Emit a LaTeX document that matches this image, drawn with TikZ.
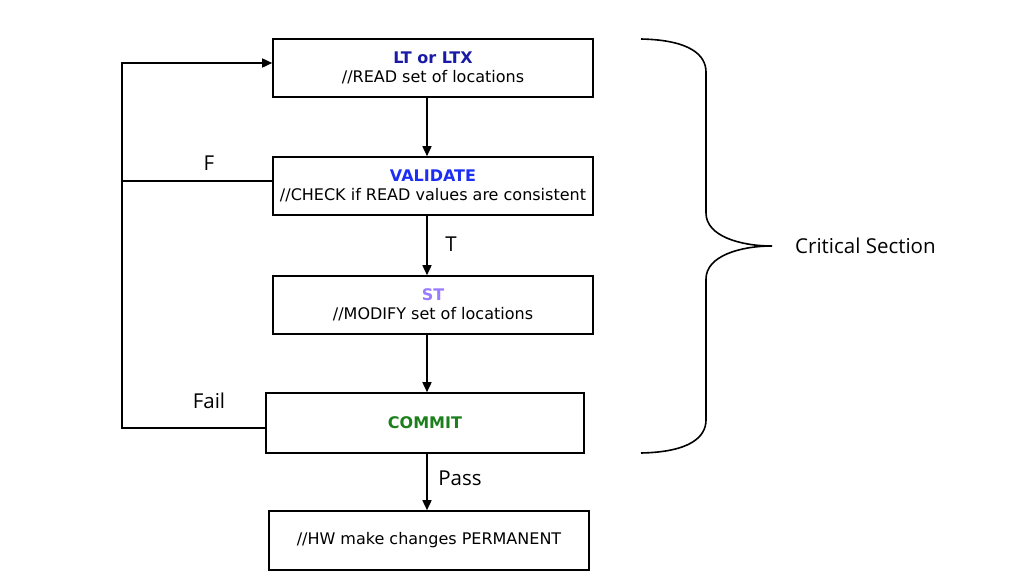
\documentclass[tikz,border=0pt]{standalone}
\usepackage{fontspec}
\setmainfont{DejaVu Sans}
\newfontfamily\labfont{Open Sans}
\usetikzlibrary{arrows.meta,calc}
\definecolor{ltblue}{HTML}{1A1AA8}
\definecolor{valblue}{HTML}{1C2EF5}
\definecolor{stviolet}{HTML}{9A7BFF}
\definecolor{cmgreen}{HTML}{1C7F1C}
\tikzset{
  stepbox/.style={draw=black,line width=1.6pt,minimum width=320pt,minimum height=58pt,inner sep=0pt,align=center,font=\fontsize{16}{19}\selectfont},
  conn/.style={line width=1.6pt},
  arr/.style={conn,-{Triangle[length=10pt,width=9pt]}},
  lab/.style={font=\labfont\fontsize{20.5}{24}\selectfont,inner sep=0pt}
}
\begin{document}
\begin{tikzpicture}[x=1pt,y=-1pt]
\useasboundingbox (0,0) rectangle (1012,584);
\node[stepbox] (b1) at (433,68) {\textbf{\color{ltblue}LT or LTX}\\//READ set of locations};
\node[stepbox] (b2) at (433,186) {\textbf{\color{valblue}VALIDATE}\\//CHECK if READ values are consistent};
\node[stepbox] (b3) at (433,305) {\textbf{\color{stviolet}ST}\\//MODIFY set of locations};
\node[stepbox,minimum width=318pt,minimum height=60pt] (b4) at (425,423) {\textbf{\color{cmgreen}COMMIT}};
\node[stepbox,minimum height=59pt] (b5) at (429,540.5) {//HW make changes PERMANENT};
\coordinate (ax) at (427,0);
\coordinate (lx) at (122,0);
\draw[arr] (b1.south -| ax) -- (b2.north -| ax);
\draw[arr] (b2.south -| ax) -- (b3.north -| ax);
\draw[arr] (b3.south -| ax) -- (b4.north -| ax);
\draw[arr] (b4.south -| ax) -- (b5.north -| ax);
\coordinate (failpt) at ($(b4.west)+(0,5)$);
\coordinate (inpt) at ($(b1.west)+(0,-5)$);
\coordinate (fpt) at ($(b2.west)+(0,-5)$);
\draw[arr] (failpt) -- (failpt -| lx) -- (inpt -| lx) -- (inpt);
\draw[conn] (fpt) -- (fpt -| lx);
\node[lab] (lf) at (209,163) {F};
\node[lab] (lt) at (451,244) {T};
\node[lab] (lfail) at (209,401) {Fail};
\node[lab] (lpass) at (460,478) {Pass};
\draw[conn] (641,39) .. controls (690,40) and (706,55) .. (706,72) -- (706,213)
  .. controls (706,236) and (740,246) .. (772,246)
  .. controls (740,246) and (706,256) .. (706,279) -- (706,420)
  .. controls (706,437) and (690,452) .. (641,453);
\node[lab,anchor=west] (cs) at (795,246) {Critical Section};
\end{tikzpicture}
\end{document}
